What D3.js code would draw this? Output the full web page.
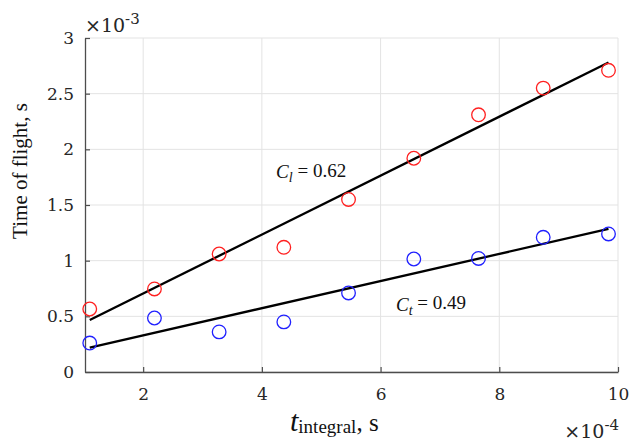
<!DOCTYPE html>
<html>
<head>
<meta charset="utf-8">
<script src="https://cdn.jsdelivr.net/npm/d3@7"></script>
<style>
  body { margin: 0; background: #fff; }
</style>
</head>
<body>
<div id="chart"></div>
<script>
"use strict";

// t_integral, in units of 1e-4 s
const tIntegral = [1.1, 2.19, 3.28, 4.37, 5.46, 6.56, 7.65, 8.74, 9.84];
// time of flight, in units of 1e-3 s
const redValues  = [0.566, 0.746, 1.06, 1.12, 1.55, 1.92, 2.31, 2.55, 2.71];
const blueValues = [0.26, 0.485, 0.36, 0.45, 0.71, 1.015, 1.02, 1.21, 1.24];
// fitted lines, end points at first / last t
const redFit  = [[1.1, 0.467], [9.84, 2.78]];
const blueFit = [[1.1, 0.22], [9.84, 1.285]];

const xTicks = [2, 4, 6, 8, 10];
const yTicks = [0, 0.5, 1, 1.5, 2, 2.5, 3];

const tickFont = "'DejaVu Serif', serif";
const labelFont = "'Liberation Serif', 'Times New Roman', serif";

const width = 630, height = 444;
const margin = {top: 38, right: 12, bottom: 72, left: 85};

const svg = d3.select("#chart").append("svg")
    .attr("width", width)
    .attr("height", height);

const x = d3.scaleLinear([1.02, 10], [margin.left, width - margin.right]);
const y = d3.scaleLinear([0, 3], [height - margin.bottom, margin.top]);

// grid
const grid = svg.append("g")
    .attr("stroke", "#e3e3e3")
    .attr("stroke-width", 1);
grid.selectAll(".vx").data(xTicks).join("line")
    .attr("x1", d => x(d)).attr("x2", d => x(d))
    .attr("y1", y(0)).attr("y2", y(3));
grid.selectAll(".hy").data(yTicks).join("line")
    .attr("x1", x.range()[0]).attr("x2", x.range()[1])
    .attr("y1", d => y(d)).attr("y2", d => y(d));

// axes
const xAxis = d3.axisBottom(x)
    .tickValues(xTicks)
    .tickSizeInner(-5)
    .tickSizeOuter(0)
    .tickPadding(16)
    .tickFormat(d3.format("d"));
const yAxis = d3.axisLeft(y)
    .tickValues(yTicks)
    .tickSizeInner(-5)
    .tickSizeOuter(0)
    .tickPadding(11)
    .tickFormat(d => d3.format("")(d));

const gx = svg.append("g")
    .attr("transform", `translate(0,${y(0)})`)
    .call(xAxis);
const gy = svg.append("g")
    .attr("transform", `translate(${x.range()[0]},0)`)
    .call(yAxis);

[gx, gy].forEach(g => {
    g.select(".domain").attr("stroke", "#4d4d4d").attr("stroke-width", 1.3);
    g.selectAll(".tick line").attr("stroke", "#4d4d4d").attr("stroke-width", 1.2);
    g.selectAll(".tick text")
        .attr("fill", "#262626")
        .style("font-family", tickFont)
        .style("font-size", "17px");
});

// fit lines
const line = d3.line(d => x(d[0]), d => y(d[1]));
[redFit, blueFit].forEach(f => {
    svg.append("path")
        .attr("d", line(f))
        .attr("fill", "none")
        .attr("stroke", "#000")
        .attr("stroke-width", 2.3);
});

// markers
function markers(values, color) {
    svg.append("g").selectAll("circle")
        .data(values)
        .join("circle")
        .attr("cx", (d, i) => x(tIntegral[i]))
        .attr("cy", d => y(d))
        .attr("r", 6.8)
        .attr("fill", "none")
        .attr("stroke", color)
        .attr("stroke-width", 1.3);
}
markers(redValues, "#ff2020");
markers(blueValues, "#2020ff");

// annotations
function annot(xv, yv, sub, val) {
    const t = svg.append("text")
        .attr("x", x(xv)).attr("y", y(yv))
        .style("font-family", labelFont)
        .style("font-size", "19px")
        .attr("fill", "#111");
    t.append("tspan").style("font-style", "italic").text("C");
    t.append("tspan").style("font-style", "italic").style("font-size", "14px")
        .attr("dy", "0.3em").text(sub);
    t.append("tspan").attr("dy", "-0.3em").text(" = " + val);
}
annot(4.24, 1.74, "l", "0.62");
annot(6.26, 0.55, "t", "0.49");

// axis labels
svg.append("text")
    .attr("transform", `translate(27,171) rotate(-90)`)
    .attr("text-anchor", "middle")
    .style("font-family", labelFont)
    .style("font-size", "21px")
    .attr("fill", "#111")
    .text("Time of flight, s");

const xl = svg.append("text")
    .attr("x", 290)
    .attr("y", 431)
    .attr("text-anchor", "start")
    .style("font-family", labelFont)
    .attr("fill", "#111");
xl.append("tspan").style("font-style", "italic").style("font-size", "30px").text("t");
xl.append("tspan").style("font-size", "19px").attr("dy", "2").text("integral");
xl.append("tspan").style("font-size", "25px").attr("dy", "-2").text(", s");

// exponent labels
function exponent(xp, yp, exp, anchor) {
    const t = svg.append("text")
        .attr("x", xp).attr("y", yp)
        .attr("text-anchor", anchor)
        .style("font-family", tickFont)
        .style("font-size", "19px")
        .attr("fill", "#262626");
    t.append("tspan").text("\u00d710");
    t.append("tspan").attr("dy", "-8").style("font-size", "15px").text(exp);
}
exponent(x.range()[0], 32, "-3", "start");
exponent(x.range()[1] + 1, 438, "-4", "end");
</script>
</body>
</html>
